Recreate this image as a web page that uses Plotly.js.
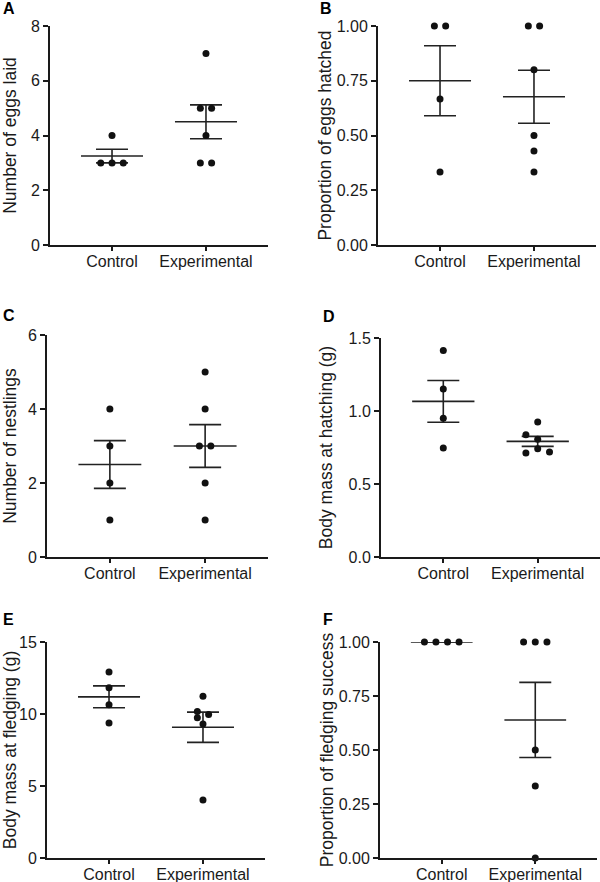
<!DOCTYPE html>
<html>
<head>
<meta charset="utf-8">
<script src="https://cdn.plot.ly/plotly-3.0.1.min.js"></script>
<style>
html, body { margin: 0; padding: 0; background: #fff; }
#chart { width: 600px; height: 882px; }
</style>
</head>
<body>
<div id="chart"></div>
<script>
// ---------- data ----------
const categories = ["Control", "Experimental"];

// A: Number of eggs laid
const eggsControl = [4, 3, 3, 3];
const eggsControlOffset = [0, -0.12, 0, 0.12];
const eggsExp = [7, 5, 5, 4, 3, 3];
const eggsExpOffset = [0, -0.06, 0.06, 0, -0.06, 0.06];
const eggsMean = [3.25, 4.5];
const eggsSem = [0.25, 0.62];

// B: Proportion of eggs hatched
const hatchControl = [1, 1, 0.667, 0.333];
const hatchControlOffset = [-0.06, 0.06, 0, 0];
const hatchExp = [1, 1, 0.8, 0.5, 0.429, 0.333];
const hatchExpOffset = [-0.06, 0.06, 0, 0, 0, 0];
const hatchMean = [0.75, 0.677];
const hatchSem = [0.16, 0.121];

// C: Number of nestlings
const nestControl = [4, 3, 2, 1];
const nestControlOffset = [0, 0, 0, 0];
const nestExp = [5, 4, 3, 3, 2, 1];
const nestExpOffset = [0, 0, -0.06, 0.06, 0, 0];
const nestMean = [2.5, 3.0];
const nestSem = [0.645, 0.577];

// D: Body mass at hatching (g)
const massHatchControl = [1.415, 1.151, 0.95, 0.747];
const massHatchControlOffset = [0, 0, 0, 0];
const massHatchExp = [0.925, 0.838, 0.806, 0.742, 0.712, 0.719];
const massHatchExpOffset = [0, -0.125, 0, 0, -0.125, 0.125];
const massHatchMean = [1.066, 0.792];
const massHatchSem = [0.143, 0.034];

// E: Body mass at fledging (g)
const massFledgeControl = [12.92, 11.82, 10.64, 9.37];
const massFledgeControlOffset = [0, 0, 0, 0];
const massFledgeExp = [11.24, 10.18, 9.97, 9.74, 9.30, 4.02];
const massFledgeExpOffset = [0, -0.06, 0.06, -0.06, 0, 0];
const massFledgeMean = [11.19, 9.08];
const massFledgeSem = [0.76, 1.05];

// F: Proportion of fledging success
const fledgeControl = [1, 1, 1, 1];
const fledgeControlOffset = [-0.185, -0.062, 0.062, 0.185];
const fledgeExp = [1, 1, 1, 0.5, 0.333, 0];
const fledgeExpOffset = [-0.125, 0, 0.125, 0, 0, 0];
const fledgeMean = [1.0, 0.639];
const fledgeSem = [0, 0.174];

const panelLetters = ["A", "B", "C", "D", "E", "F"];
const yTitles = [
  "Number of eggs laid",
  "Proportion of eggs hatched",
  "Number of nestlings",
  "Body mass at hatching (g)",
  "Body mass at fledging (g)",
  "Proportion of fledging success"
];

// ---------- styling / layout ----------
const W = 600, H = 882;
const FONT = '"Liberation Sans", Arial, Helvetica, sans-serif';
const INK = '#1a1a1a';

const panels = [
  { c: eggsControl, co: eggsControlOffset, e: eggsExp, eo: eggsExpOffset, m: eggsMean, s: eggsSem,
    yr: [0, 8], dt: 2, fmt: 'd', px: [50, 268], py: [26, 245], standoff: 16, letter: [1, -2] },
  { c: hatchControl, co: hatchControlOffset, e: hatchExp, eo: hatchExpOffset, m: hatchMean, s: hatchSem,
    yr: [0, 1], dt: 0.25, fmt: '.2f', px: [378, 596], py: [26, 245], standoff: 1, letter: [318, -2] },
  { c: nestControl, co: nestControlOffset, e: nestExp, eo: nestExpOffset, m: nestMean, s: nestSem,
    yr: [0, 6], dt: 2, fmt: 'd', px: [47, 268], py: [335, 557], standoff: 16, letter: [1, 305] },
  { c: massHatchControl, co: massHatchControlOffset, e: massHatchExp, eo: massHatchExpOffset, m: massHatchMean, s: massHatchSem,
    yr: [0, 1.5], dt: 0.5, fmt: '.1f', px: [381, 600], py: [338, 557], standoff: 11, letter: [321, 306] },
  { c: massFledgeControl, co: massFledgeControlOffset, e: massFledgeExp, eo: massFledgeExpOffset, m: massFledgeMean, s: massFledgeSem,
    yr: [0, 15], dt: 5, fmt: 'd', px: [47, 265], py: [642, 858], standoff: 6, letter: [1, 609] },
  { c: fledgeControl, co: fledgeControlOffset, e: fledgeExp, eo: fledgeExpOffset, m: fledgeMean, s: fledgeSem,
    yr: [0, 1], dt: 0.25, fmt: '.2f', px: [380, 597], py: [642, 858], standoff: 1, letter: [321, 609] }
];

const traces = [];
const layout = {
  width: W, height: H,
  margin: { l: 0, r: 0, t: 0, b: 0 },
  paper_bgcolor: '#fff', plot_bgcolor: '#fff',
  showlegend: false,
  font: { family: FONT, color: INK },
  annotations: []
};

panels.forEach((p, i) => {
  const n = i + 1;
  const xa = 'x' + (n === 1 ? '' : n);
  const ya = 'y' + (n === 1 ? '' : n);

  // mean line + SEM
  traces.push({
    type: 'scatter', mode: 'markers', xaxis: xa, yaxis: ya,
    x: [0, 1], y: p.m,
    marker: { size: 1, color: 'rgba(0,0,0,0)' },
    error_y: { type: 'data', array: p.s, visible: true, color: '#222', thickness: 1.6, width: 16 },
    error_x: { type: 'constant', value: 0.33, visible: true, color: '#222', thickness: 1.6, width: 0 },
    hoverinfo: 'skip', cliponaxis: false
  });
  // points
  traces.push({
    type: 'scatter', mode: 'markers', xaxis: xa, yaxis: ya,
    x: p.co.map(o => 0 + o), y: p.c,
    marker: { size: 7, color: '#111' }, cliponaxis: false, name: categories[0]
  });
  traces.push({
    type: 'scatter', mode: 'markers', xaxis: xa, yaxis: ya,
    x: p.eo.map(o => 1 + o), y: p.e,
    marker: { size: 7, color: '#111' }, cliponaxis: false, name: categories[1]
  });

  const xKey = 'xaxis' + (n === 1 ? '' : n);
  const yKey = 'yaxis' + (n === 1 ? '' : n);
  layout[xKey] = {
    domain: [p.px[0] / W, p.px[1] / W],
    anchor: ya,
    range: [-0.66, 1.66],
    tickmode: 'array', tickvals: [0, 1], ticktext: categories,
    showgrid: false, zeroline: false,
    showline: true, linecolor: INK, linewidth: 2,
    ticks: 'outside', ticklen: 4, tickwidth: 2, tickcolor: INK,
    ticklabelstandoff: -3,
    tickfont: { family: FONT, size: 16, color: INK },
    fixedrange: true
  };
  layout[yKey] = {
    domain: [1 - p.py[1] / H, 1 - p.py[0] / H],
    anchor: xa,
    range: p.yr,
    tickmode: 'linear', tick0: 0, dtick: p.dt, tickformat: p.fmt,
    showgrid: false, zeroline: false,
    showline: true, linecolor: INK, linewidth: 2,
    ticks: 'outside', ticklen: 5, tickwidth: 2, tickcolor: INK,
    tickfont: { family: FONT, size: 16, color: INK },
    title: { text: yTitles[i], font: { family: FONT, size: 17.5, color: INK }, standoff: p.standoff },
    fixedrange: true
  };

  layout.annotations.push({
    text: '<b>' + panelLetters[i] + '</b>',
    xref: 'paper', yref: 'paper',
    x: p.letter[0] / W, y: 1 - p.letter[1] / H,
    xanchor: 'left', yanchor: 'top',
    showarrow: false,
    font: { family: FONT, size: 16, color: '#000' }
  });
});

Plotly.newPlot('chart', traces, layout, { staticPlot: true, displayModeBar: false });
</script>
</body>
</html>
